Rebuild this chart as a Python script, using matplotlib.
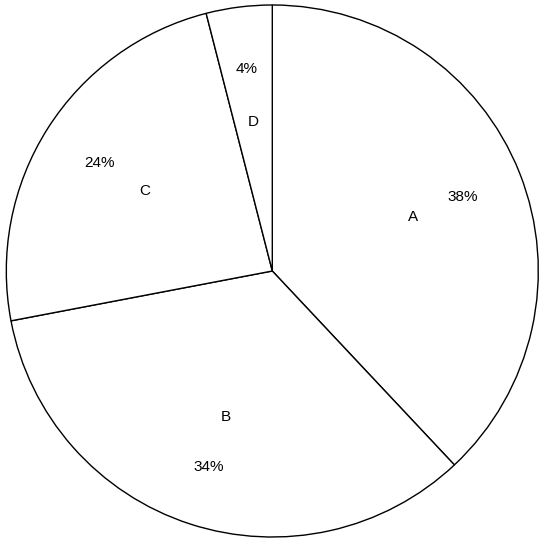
import matplotlib
matplotlib.use("Agg")
import matplotlib.pyplot as plt

labels = ["A", "B", "C", "D"]
values = [38, 34, 24, 4]

plt.rcParams['font.family'] = ['Liberation Sans', 'DejaVu Sans']

fig = plt.figure(figsize=(5.45, 5.45), dpi=100)
ax = fig.add_axes([0, 0, 1, 1])
wedges, texts, autotexts = ax.pie(
    values, labels=labels, startangle=90, counterclock=False,
    autopct='%d%%', labeldistance=0.57, pctdistance=0.77,
    colors=['white'] * 4,
    wedgeprops=dict(edgecolor='black', linewidth=1.0),
    textprops=dict(fontsize=11, color='black'))
for t in list(texts) + list(autotexts):
    t.set_horizontalalignment('center')
    t.set_verticalalignment('center_baseline')
R = 266.0
ax.set_xlim(-272.3 / R, (545 - 272.3) / R)
ax.set_ylim(-274 / R, 271 / R)
ax.set_aspect('equal')
ax.axis('off')
fig.savefig("out.png", dpi=100, facecolor='white')
